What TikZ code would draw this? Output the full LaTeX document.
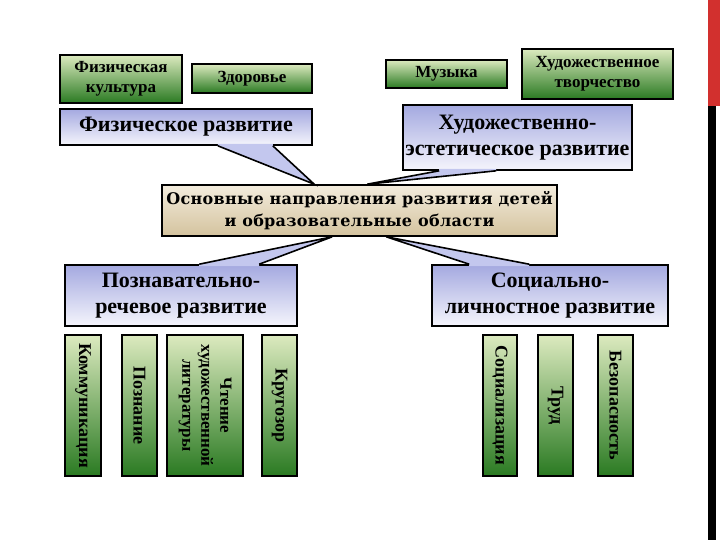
\documentclass[tikz,border=0pt]{standalone}
\usepackage{fontspec}
\setmainfont{Liberation Serif}
\newfontfamily\osnfont[LetterSpace=2]{DejaVu Serif}
\usetikzlibrary{positioning, calc}

\definecolor{grTop}{HTML}{DCEABF}
\definecolor{grBot}{HTML}{2A7A22}
\definecolor{blTop}{HTML}{A4A9E0}
\definecolor{blBot}{HTML}{F5F5FC}
\definecolor{tailCol}{HTML}{C3C7EE}
\definecolor{bgTop}{HTML}{F3ECDD}
\definecolor{bgBot}{HTML}{D4C39E}
\definecolor{barRed}{HTML}{D2302E}

\begin{document}
\begin{tikzpicture}[
    x=0.5pt, y=-0.5pt,
    green_box/.style={draw=black, line width=0.8pt, top color=grTop, bottom color=grBot,
        align=center, inner sep=1pt, font=\bfseries\fontsize{8.5}{10}\selectfont},
    blue_box/.style={draw=black, line width=0.8pt, top color=blTop, bottom color=blBot,
        align=center, inner sep=1pt, font=\bfseries\fontsize{11}{13}\selectfont},
    main_box/.style={draw=black, line width=0.8pt, top color=bgTop, bottom color=bgBot,
        align=center, inner sep=1pt, font=\osnfont\bfseries\fontsize{8}{11}\selectfont},
    vert_box/.style={draw=black, line width=0.8pt, top color=grTop, bottom color=grBot,
        rotate=-90, minimum width=70.5pt, align=center, inner sep=1pt,
        font=\bfseries\fontsize{9}{9.5}\selectfont},
    tail/.style={fill=tailCol},
    tail_edge/.style={line width=0.8pt, line join=miter}
]
\useasboundingbox (0,0) rectangle (720,540);

% Tail of a callout: box anchor, base offsets, apex, inward shift
\newcommand{\drawTail}[5]{
    \fill[tail] ($(#1)+(#2,#5)$) -- ($(#1)+(#2,0)$) -- (#4) -- ($(#1)+(#3,0)$) -- ($(#1)+(#3,#5)$) -- cycle;
    \draw[tail_edge] ($(#1)+(#2,0)$) -- (#4) -- ($(#1)+(#3,0)$);
}

% Полоса справа
\fill[barRed] (708,0) rectangle (720,106);
\fill[black] (708,106) rectangle (716,540);

% ==========================================
% Верхний ряд: образовательные области
\node[green_box, minimum width=61pt, minimum height=24pt] (fizkult) at (121,79) {Физическая\\культура};
\node[green_box, minimum width=60pt, minimum height=14.5pt] (zdor) at (252,78.5) {Здоровье};
\node[green_box, minimum width=60.5pt, minimum height=14pt] (muz) at (446.5,74) {Музыка};
\node[green_box, minimum width=75.5pt, minimum height=25pt] (hudtv) at (597.5,74) {Художественное\\творчество};

% Направления развития
\node[blue_box, minimum width=126pt, minimum height=18pt] (fizrazv) at (186,127) {Физическое развитие};
\node[blue_box, minimum width=114.5pt, minimum height=32.5pt] (hudest) at (517.5,137.5) {Художественно-\\эстетическое развитие};
\node[blue_box, minimum width=116pt, minimum height=30.5pt] (poznrech) at (181,295.5) {Познавательно-\\речевое развитие};
\node[blue_box, minimum width=118pt, minimum height=30.5pt] (soclich) at (550,295.5) {Социально-\\личностное развитие};

% ==========================================
% Центральный блок
\node[main_box, minimum width=197.5pt, minimum height=25.5pt] (osn) at (359.5,210.5)
    {Основные направления развития детей\\и образовательные области};

\coordinate (apex1) at ($(osn.north west)+(153,0)$);
\coordinate (apex2) at ($(osn.north west)+(206,0)$);
\coordinate (apex3) at ($(osn.south west)+(171,0)$);
\coordinate (apex4) at ($(osn.south west)+(225,0)$);

\drawTail{fizrazv.south east}{-95}{-40}{apex1}{-2}
\drawTail{hudest.south west}{37}{94}{apex2}{-2}
\drawTail{poznrech.north west}{135}{195}{apex3}{2}
\drawTail{soclich.north west}{38}{98}{apex4}{2}

% ==========================================
% Нижний ряд: вертикальные блоки
\node[vert_box, minimum height=18pt] (komm) at (83,405.5) {Коммуникация};
\node[vert_box, minimum height=17.5pt] (pozn) at (139.5,405.5) {Познание};
\node[vert_box, minimum height=38pt, font=\bfseries\fontsize{8.5}{9.5}\selectfont] (chten) at (205,405.5)
    {Чтение\\художественной\\литературы};
\node[vert_box, minimum height=17.5pt] (krug) at (279.5,405.5) {Кругозор};
\node[vert_box, minimum height=17pt] (soc) at (500,405.5) {Социализация};
\node[vert_box, minimum height=17.5pt] (trud) at (555.5,405.5) {Труд};
\node[vert_box, minimum height=17.5pt] (bez) at (615.5,405.5) {Безопасность};

\end{tikzpicture}
\end{document}
